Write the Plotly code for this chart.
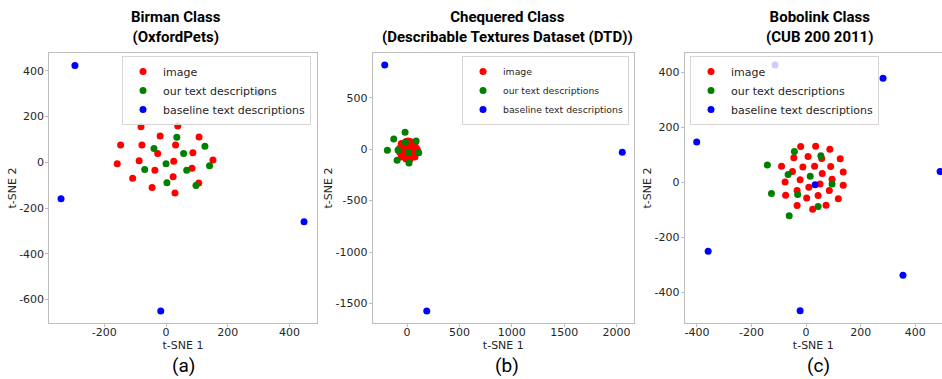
import plotly.graph_objects as go

# ---------------- data ----------------
# Panel (a) Birman Class (OxfordPets)
a_img_x = [-81, 38, -19, 107, -147, -78, 31, -27, 87, -158, -87, 25, 152, -36, 84, -108, 23, -45, 106, 29]
a_img_y = [155, 159, 115, 111, 76, 76, 76, 38, 42, -6, 7, 4, 10, -35, -26, -70, -63, -110, -91, -134]
a_our_x = [35, -39, 126, 57, 0, -69, 67, 141, 3, 97]
a_our_y = [110, 60, 70, 38, -6, -32, -35, -15, -89, -102]
a_base_x = [-295, -340, -17, 447, 303]
a_base_y = [423, -160, -650, -260, 304]

# Panel (b) Chequered Class (DTD)
b_img_x = [10, -40, 60, 10, 10, -30, 50, -30, 50, -70, -70, 90, 90, -10, 30, -10, 30, -55, 75, -55, 75, -15, 35, -15, 35, 10, -80, 100, 10, 10]
b_img_y = [-10, -10, -10, 40, -60, 30, 30, -50, -50, 10, -30, 10, -30, 75, 75, -95, -95, 55, 55, -75, -75, 10, 10, -30, -30, -35, -10, -10, 80, -100]
b_our_x = [-19, -127, 86, -16, -188, -86, 13, 111, -95, 19]
b_our_y = [166, 101, 81, 68, -10, -7, -29, -33, -107, -133]
b_base_x = [-213, 2054, 188]
b_base_y = [820, -29, -1574]

# Panel (c) Bobolink Class (CUB 200 2011)
c_img_x = [-20, 35, 87, -90, -45, 7, 57, 125, -12, 31, 90, -50, 59, 136, -77, -22, 95, 10, 51, 136, -75, -33, 44, 85, 2, -33, 118, 24, 73]
c_img_y = [131, 132, 121, 59, 90, 95, 87, 86, 56, 59, 58, 40, 33, 38, 2, 10, 12, -17, -5, -10, -46, -29, -47, -29, -56, -84, -59, -97, -83]
c_our_x = [-43, 54, -142, -66, 15, 95, -127, -31, 44, -62]
c_our_y = [113, 97, 64, 29, 23, -5, -40, -44, -87, -121]
c_base_x = [-401, 282, -359, 355, -22, 491, 33, -114]
c_base_y = [147, 379, -250, -337, -466, 40, -8, 427]

titles = ["Birman Class<br>(OxfordPets)",
          "Chequered Class<br>(Describable Textures Dataset (DTD))",
          "Bobolink Class<br>(CUB 200 2011)"]
panel_labels = ["(a)", "(b)", "(c)"]
series_names = ["image", "our text descriptions", "baseline text descriptions"]
series_colors = ["#ff0000", "#008000", "#0000ff"]

a_xticks = [-200, 0, 200, 400]
a_yticks = [-600, -400, -200, 0, 200, 400]
b_xticks = [0, 500, 1000, 1500, 2000]
b_yticks = [-1500, -1000, -500, 0, 500]
c_xticks = [-400, -200, 0, 200, 400]
c_yticks = [-400, -200, 0, 200, 400]

# ---------------- figure ----------------
W, H = 942, 379
fig = go.Figure()

panels = [
    dict(data=[(a_img_x, a_img_y), (a_our_x, a_our_y), (a_base_x, a_base_y)],
         xr=[-378, 488], yr=[-703, 478], xt=a_xticks, yt=a_yticks,
         dom=[49.3, 316.7], legend="legend"),
    dict(data=[(b_img_x, b_img_y), (b_our_x, b_our_y), (b_base_x, b_base_y)],
         xr=[-328, 2166], yr=[-1691, 937], xt=b_xticks, yt=b_yticks,
         dom=[372.7, 634], legend="legend2"),
    dict(data=[(c_img_x, c_img_y), (c_our_x, c_our_y), (c_base_x, c_base_y)],
         xr=[-445, 498], yr=[-511, 471], xt=c_xticks, yt=c_yticks,
         dom=[684.7, 942], legend="legend3"),
]

def tick_text(vals):
    return [str(v) for v in vals]

txt_font = dict(family="DejaVu Sans", size=11, color="#262626")
axis_common = dict(showgrid=False, zeroline=False, showline=True, mirror=True,
                   linecolor="#bdbdbd", linewidth=1, ticks="outside", ticklen=3,
                   tickcolor="#bdbdbd", tickfont=txt_font, automargin=False)

y_dom = [1 - 323 / H, 1 - 53 / H]
layout = dict(width=W, height=H, margin=dict(l=0, r=0, t=0, b=0, autoexpand=False),
              plot_bgcolor="white", paper_bgcolor="white", showlegend=True)

for i, p in enumerate(panels):
    sfx = "" if i == 0 else str(i + 1)
    xa, ya = "x" + sfx, "y" + sfx
    for (xs, ys), name, col in zip(p["data"], series_names, series_colors):
        fig.add_trace(go.Scatter(x=xs, y=ys, mode="markers", name=name,
                                 marker=dict(color=col, size=7, line=dict(width=0)),
                                 xaxis=xa, yaxis=ya, legend=p["legend"]))
    layout["xaxis" + sfx] = dict(axis_common, domain=[p["dom"][0] / W, p["dom"][1] / W],
                                 range=p["xr"], anchor=ya, tickvals=p["xt"], ticktext=tick_text(p["xt"]),
                                 ticklabelstandoff=-4,
                                 title=dict(text="t-SNE 1", standoff=0, font=txt_font))
    layout["yaxis" + sfx] = dict(axis_common, domain=y_dom, range=p["yr"], anchor=xa,
                                 tickvals=p["yt"], ticktext=tick_text(p["yt"]),
                                 ticklabelstandoff=-1,
                                 title=dict(text="t-SNE 2", standoff=0, font=txt_font))

leg_common = dict(bgcolor="rgba(255,255,255,0.8)", bordercolor="#d6d6d6", borderwidth=1,
                  font=txt_font, yanchor="top")
layout["legend"] = dict(leg_common, x=311 / W, xanchor="right", y=1 - 56 / H)
layout["legend2"] = dict(leg_common, x=629 / W, xanchor="right", y=1 - 56 / H,
                         font=dict(family="DejaVu Sans", size=9.3, color="#262626"))
layout["legend3"] = dict(leg_common, x=690 / W, xanchor="left", y=1 - 56 / H)

title_x = [176, 507, 819]
label_x = [183, 507, 818]
annotations = []
for t, tx in zip(titles, title_x):
    annotations.append(dict(text="<b>" + t.replace("<br>", "</b><br><b>") + "</b>", x=tx / W, y=1 - 27 / H,
                            xref="paper", yref="paper", showarrow=False, xanchor="center", yanchor="middle",
                            font=dict(family="Roboto, sans-serif", size=15, color="black")))
for lab, lx in zip(panel_labels, label_x):
    annotations.append(dict(text=lab, x=lx / W, y=1 - 365 / H, xref="paper", yref="paper",
                            showarrow=False, xanchor="center", yanchor="middle",
                            font=dict(family="Roboto, sans-serif", size=19, color="black")))
layout["annotations"] = annotations

fig.update_layout(**layout)
fig.write_html("out.html", config={"displayModeBar": False})

# remove the browser's default page margin so the 942x379 figure fills the window exactly
with open("out.html", encoding="utf-8") as f:
    html = f.read()
html = html.replace("<head>", "<head><style>html,body{margin:0;padding:0;overflow:hidden;}</style>", 1)
with open("out.html", "w", encoding="utf-8") as f:
    f.write(html)
